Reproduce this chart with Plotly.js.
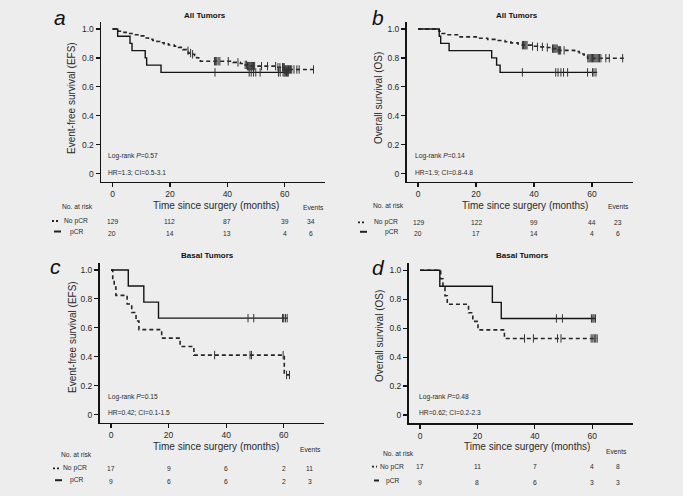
<!DOCTYPE html>
<html><head><meta charset="utf-8">
<script src="https://cdn.plot.ly/plotly-3.0.1.min.js"></script>
<style>html,body{margin:0;padding:0;background:#ededed}</style>
</head><body>
<div id="chart" style="width:683px;height:496px"></div>
<script>
// ---------------- DATA ----------------
const xTickVals = [0, 20, 40, 60];
const yTickVals = [0, 0.2, 0.4, 0.6, 0.8, 1.0];
const yTickText = ['0', '0.2', '0.4', '0.6', '0.8', '1.0'];
const riskTimes = [0, 20, 40, 60];

// Panel a: EFS, all tumors
const a_noPCR_t = [0, 1.2, 2.0, 4.0, 6.0, 8.0, 10.0, 11.3, 12.5, 14.0, 15.5, 16.5, 18.0, 19.5, 21.5, 23.0, 24.5, 25.8, 26.4, 27.5, 28.6, 29.3, 30.0, 30.6, 42.0, 44.5, 46.2, 47.0, 57.0, 60.0, 70.0];
const a_noPCR_s = [1.0, 0.992, 0.984, 0.976, 0.968, 0.96, 0.952, 0.937, 0.929, 0.921, 0.913, 0.905, 0.897, 0.889, 0.881, 0.873, 0.857, 0.849, 0.833, 0.825, 0.817, 0.801, 0.793, 0.777, 0.769, 0.761, 0.752, 0.743, 0.735, 0.72, 0.72];
const a_noPCR_cens = [26.3, 27.2, 27.9, 35.5, 35.9, 36.3, 36.8, 37.4, 40.3, 43.7, 46.2, 46.7, 47.0, 47.3, 47.6, 47.9, 48.2, 48.5, 48.8, 49.1, 49.5, 51.9, 54.0, 56.8, 57.6, 58.3, 59.2, 59.5, 59.8, 60.1, 60.4, 60.7, 61.0, 61.3, 61.6, 62.0, 62.4, 63.2, 64.2, 65.0, 70.0];
const a_pCR_t = [0, 1.8, 6.1, 6.8, 11.4, 11.9, 16.9, 61.2];
const a_pCR_s = [1.0, 0.95, 0.90, 0.85, 0.80, 0.75, 0.70, 0.70];
const a_pCR_cens = [35.7, 47.6, 48.3, 49.1, 49.9, 51.4, 57.8, 58.4, 59.4, 59.8, 60.2, 60.6, 61.0, 61.2];
const a_risk_noPCR = [129, 112, 87, 39];
const a_risk_pCR = [20, 14, 13, 4];
const a_events = [34, 6];

// Panel b: OS, all tumors
const b_noPCR_t = [0, 7.2, 8.2, 9.5, 14.5, 20.4, 24.0, 27.3, 30.0, 32.0, 34.5, 36.0, 39.0, 41.2, 44.0, 46.4, 48.1, 54.0, 55.6, 56.5, 57.3, 58.5, 71.0];
const b_noPCR_s = [1.0, 0.984, 0.968, 0.96, 0.945, 0.936, 0.928, 0.92, 0.912, 0.904, 0.896, 0.888, 0.88, 0.876, 0.872, 0.864, 0.852, 0.844, 0.836, 0.827, 0.818, 0.798, 0.798];
const b_noPCR_cens = [36.0, 36.4, 36.8, 37.2, 37.6, 39.5, 41.2, 42.9, 44.6, 46.4, 46.8, 47.2, 47.6, 48.0, 48.4, 48.8, 49.2, 50.4, 58.6, 59.0, 59.4, 59.8, 60.2, 60.6, 61.0, 61.4, 61.8, 62.2, 62.6, 63.1, 64.8, 66.0, 70.6];
const b_pCR_t = [0, 7.3, 7.8, 10.7, 25.4, 27.1, 28.3, 61.8];
const b_pCR_s = [1.0, 0.95, 0.90, 0.85, 0.80, 0.75, 0.70, 0.70];
const b_pCR_cens = [36.0, 47.5, 48.3, 49.3, 50.2, 51.6, 58.5, 60.2, 60.7, 61.4];
const b_risk_noPCR = [129, 122, 99, 44];
const b_risk_pCR = [20, 17, 14, 4];
const b_events = [23, 6];

// Panel c: EFS, basal tumors
const c_noPCR_t = [0, 0.6, 1.1, 1.7, 5.6, 7.2, 8.7, 9.7, 17.6, 24.0, 28.8, 60.2, 62.2];
const c_noPCR_s = [1.0, 0.941, 0.882, 0.824, 0.765, 0.706, 0.647, 0.588, 0.529, 0.471, 0.412, 0.275, 0.275];
const c_noPCR_cens = [36.0, 48.3, 48.8, 59.8, 61.0, 62.0];
const c_pCR_t = [0, 6.0, 11.4, 16.5, 61.4];
const c_pCR_s = [1.0, 0.889, 0.778, 0.667, 0.667];
const c_pCR_cens = [47.6, 49.6, 59.6, 60.0, 60.6, 61.2];
const c_risk_noPCR = [17, 9, 6, 2];
const c_risk_pCR = [9, 6, 6, 2];
const c_events = [11, 3];

// Panel d: OS, basal tumors
const d_noPCR_t = [0, 7.2, 8.0, 8.7, 9.5, 16.9, 18.4, 20.2, 29.4, 61.7];
const d_noPCR_s = [1.0, 0.941, 0.882, 0.824, 0.765, 0.706, 0.647, 0.588, 0.529, 0.529];
const d_noPCR_cens = [36.4, 39.5, 47.9, 49.1, 59.6, 60.2, 60.7, 61.2, 61.7];
const d_pCR_t = [0, 6.9, 25.2, 28.3, 61.2];
const d_pCR_s = [1.0, 0.889, 0.778, 0.667, 0.667];
const d_pCR_cens = [47.5, 49.6, 59.7, 60.2, 60.6, 61.1];
const d_risk_noPCR = [17, 11, 7, 4];
const d_risk_pCR = [9, 8, 6, 3];
const d_events = [8, 3];

const panelLetters = ['a', 'b', 'c', 'd'];
const panelTitles = ['All Tumors', 'All Tumors', 'Basal Tumors', 'Basal Tumors'];
const yTitles = ['Event-free survival (EFS)', 'Overall survival (OS)', 'Event-free survival (EFS)', 'Overall survival (OS)'];
const logrankP = ['0.57', '0.14', '0.15', '0.48'];
const hrText = ['HR=1.3; CI=0.5-3.1', 'HR=1.9; CI=0.8-4.8', 'HR=0.42; CI=0.1-1.5', 'HR=0.62; CI=0.2-2.3'];
const xTitle = 'Time since surgery (months)';
const groupNames = ['No pCR', 'pCR'];

// ---------------- LAYOUT HELPERS ----------------
const W = 683, H = 496;
const px = x => x / W;
const py = y => 1 - y / H;
const INK = '#141414';
const TXT = '#2a2a2a';
const MARK = '#333333';
const FONT = 'Arial, "Liberation Sans", sans-serif';

function stepAt(ts, ss, t) {
  let v = ss[0];
  for (let i = 0; i < ts.length; i++) { if (ts[i] <= t) v = ss[i]; }
  return v;
}

const panels = [
  {id: '', nt: a_noPCR_t, ns: a_noPCR_s, nc: a_noPCR_cens, pt: a_pCR_t, ps: a_pCR_s, pc: a_pCR_cens, rn: a_risk_noPCR, rp: a_risk_pCR, ev: a_events,
   xd: [101, 325], yd: [21.7, 181.7], letter: [60, 17], title: [205, 15], ytitle: [72, 98], stat: [106, 156, 172.3],
   tbl: {risk: [77.3, 206.7], xt: [216, 205], evt: [313.3, 207.3], r1: 221, r2: 233, lab1: 61.7, lab2: 68, leg: [52, 59]}},
  {id: '2', nt: b_noPCR_t, ns: b_noPCR_s, nc: b_noPCR_cens, pt: b_pCR_t, ps: b_pCR_s, pc: b_pCR_cens, rn: b_risk_noPCR, rp: b_risk_pCR, ev: b_events,
   xd: [406.5, 632.5], yd: [21.7, 181.7], letter: [378, 17], title: [517, 15], ytitle: [379, 98], stat: [412.7, 156, 172.5],
   tbl: {risk: [388.3, 205.7], xt: [525, 205], evt: [618.3, 206.7], r1: 222.3, r2: 233.3, lab1: 371.7, lab2: 382.7, leg: [358, 365]}},
  {id: '3', nt: c_noPCR_t, ns: c_noPCR_s, nc: c_noPCR_cens, pt: c_pCR_t, ps: c_pCR_s, pc: c_pCR_cens, rn: c_risk_noPCR, rp: c_risk_pCR, ev: c_events,
   xd: [99.5, 324], yd: [262.7, 422.7], letter: [55, 266], title: [207, 255], ytitle: [72, 337], stat: [106, 396.7, 412.7],
   tbl: {risk: [76.7, 454.3], xt: [216, 446.7], evt: [310.7, 449.3], r1: 468.3, r2: 481.7, lab1: 60.5, lab2: 68.3, leg: [53, 60]}},
  {id: '4', nt: d_noPCR_t, ns: d_noPCR_s, nc: d_noPCR_cens, pt: d_pCR_t, ps: d_pCR_s, pc: d_pCR_cens, rn: d_risk_noPCR, rp: d_risk_pCR, ev: d_events,
   xd: [408.5, 632.5], yd: [263, 423], letter: [378, 267], title: [522, 255], ytitle: [379, 336], stat: [416.7, 396.7, 412.7],
   tbl: {risk: [398.3, 453.3], xt: [527, 446], evt: [616.7, 451], r1: 466.7, r2: 482, lab1: 378, lab2: 384.3, leg: [372, 377]}}
];

const traces = [];
const annotations = [];
const shapes = [];
const layout = {
  width: W, height: H,
  margin: {l: 0, r: 0, t: 0, b: 0},
  paper_bgcolor: '#ededed', plot_bgcolor: '#ededed',
  showlegend: false,
  font: {family: FONT, color: TXT},
  annotations: annotations, shapes: shapes
};

const EVENT_X = 69;
const small = 6.7;

panels.forEach((p, i) => {
  const xa = 'x' + p.id, ya = 'y' + p.id;
  layout['xaxis' + p.id] = {
    domain: [px(p.xd[0]), px(p.xd[1])], range: [-4, 74], anchor: ya,
    showline: true, linecolor: INK, linewidth: 1.5, ticks: 'outside', ticklen: 4, tickwidth: 1.2, tickcolor: INK,
    tickvals: xTickVals, tickfont: {size: 8.5, color: TXT, family: FONT}, showgrid: false, zeroline: false, fixedrange: true
  };
  layout['yaxis' + p.id] = {
    domain: [py(p.yd[1]), py(p.yd[0])], range: [-0.055, 1.05], anchor: xa,
    showline: true, linecolor: INK, linewidth: 1.5, ticks: 'outside', ticklen: 4, tickwidth: 1.2, tickcolor: INK,
    tickvals: yTickVals, ticktext: yTickText, tickfont: {size: 8.5, color: TXT, family: FONT}, showgrid: false, zeroline: false, fixedrange: true
  };
  // curves
  traces.push({x: p.nt, y: p.ns, xaxis: xa, yaxis: ya, mode: 'lines', line: {shape: 'hv', color: '#262626', width: 1.6, dash: '4px,3px'}, hoverinfo: 'skip'});
  traces.push({x: p.pt, y: p.ps, xaxis: xa, yaxis: ya, mode: 'lines', line: {shape: 'hv', color: INK, width: 1.4}, hoverinfo: 'skip'});
  // censor marks
  traces.push({x: p.nc, y: p.nc.map(t => stepAt(p.nt, p.ns, t)), xaxis: xa, yaxis: ya, mode: 'markers',
    marker: {symbol: 'line-ns-open', size: 6, color: MARK, line: {width: 1, color: MARK}}, hoverinfo: 'skip'});
  traces.push({x: p.pc, y: p.pc.map(t => stepAt(p.pt, p.ps, t)), xaxis: xa, yaxis: ya, mode: 'markers',
    marker: {symbol: 'line-ns-open', size: 6, color: MARK, line: {width: 1, color: MARK}}, hoverinfo: 'skip'});

  // panel letter
  annotations.push({text: '<i>' + panelLetters[i] + '</i>', xref: 'paper', yref: 'paper', x: px(p.letter[0]), y: py(p.letter[1]),
    xanchor: 'center', yanchor: 'middle', showarrow: false, font: {size: 21, color: '#111', family: FONT}});
  // title
  annotations.push({text: '<b>' + panelTitles[i] + '</b>', xref: 'paper', yref: 'paper', x: px(p.title[0]), y: py(p.title[1]),
    xanchor: 'center', yanchor: 'middle', showarrow: false, font: {size: 8, color: '#111', family: FONT}});
  // y title
  annotations.push({text: yTitles[i], xref: 'paper', yref: 'paper', x: px(p.ytitle[0]), y: py(p.ytitle[1]), textangle: -90,
    xanchor: 'center', yanchor: 'middle', showarrow: false, font: {size: 10, color: TXT, family: FONT}});
  // stats
  annotations.push({text: 'Log-rank <i>P</i>=' + logrankP[i], xref: 'paper', yref: 'paper', x: px(p.stat[0]), y: py(p.stat[1]),
    xanchor: 'left', yanchor: 'middle', showarrow: false, font: {size: small, color: TXT, family: FONT}});
  annotations.push({text: hrText[i], xref: 'paper', yref: 'paper', x: px(p.stat[0]), y: py(p.stat[2]),
    xanchor: 'left', yanchor: 'middle', showarrow: false, font: {size: small, color: TXT, family: FONT}});
  // x title
  const t = p.tbl;
  annotations.push({text: xTitle, xref: 'paper', yref: 'paper', x: px(t.xt[0]), y: py(t.xt[1]),
    xanchor: 'center', yanchor: 'middle', showarrow: false, font: {size: 10, color: TXT, family: FONT}});
  annotations.push({text: 'No. at risk', xref: 'paper', yref: 'paper', x: px(t.risk[0]), y: py(t.risk[1]),
    xanchor: 'center', yanchor: 'middle', showarrow: false, font: {size: small, color: TXT, family: FONT}});
  annotations.push({text: 'Events', xref: 'paper', yref: 'paper', x: px(t.evt[0]), y: py(t.evt[1]),
    xanchor: 'center', yanchor: 'middle', showarrow: false, font: {size: small, color: TXT, family: FONT}});
  annotations.push({text: groupNames[0], xref: 'paper', yref: 'paper', x: px(t.lab1), y: py(t.r1),
    xanchor: 'left', yanchor: 'middle', showarrow: false, font: {size: small, color: TXT, family: FONT}});
  annotations.push({text: groupNames[1], xref: 'paper', yref: 'paper', x: px(t.lab2), y: py(t.r2 - 1.5),
    xanchor: 'left', yanchor: 'middle', showarrow: false, font: {size: small, color: TXT, family: FONT}});
  // legend marks
  shapes.push({type: 'line', xref: 'paper', yref: 'paper', x0: px(t.leg[0]), x1: px(t.leg[1]), y0: py(t.r1), y1: py(t.r1),
    line: {color: '#222', width: 1.8, dash: '2px,2px'}});
  shapes.push({type: 'line', xref: 'paper', yref: 'paper', x0: px(t.leg[0] + 2), x1: px(t.leg[1] + 2), y0: py(t.r2 - 1.5), y1: py(t.r2 - 1.5),
    line: {color: '#222', width: 2}});
  // at-risk numbers
  riskTimes.forEach((rt, k) => {
    annotations.push({text: String(p.rn[k]), xref: xa, yref: 'paper', x: rt, y: py(t.r1),
      xanchor: 'center', yanchor: 'middle', showarrow: false, font: {size: small, color: TXT, family: FONT}});
    annotations.push({text: String(p.rp[k]), xref: xa, yref: 'paper', x: rt, y: py(t.r2),
      xanchor: 'center', yanchor: 'middle', showarrow: false, font: {size: small, color: TXT, family: FONT}});
  });
  annotations.push({text: String(p.ev[0]), xref: xa, yref: 'paper', x: EVENT_X, y: py(t.r1),
    xanchor: 'center', yanchor: 'middle', showarrow: false, font: {size: small, color: TXT, family: FONT}});
  annotations.push({text: String(p.ev[1]), xref: xa, yref: 'paper', x: EVENT_X, y: py(t.r2),
    xanchor: 'center', yanchor: 'middle', showarrow: false, font: {size: small, color: TXT, family: FONT}});
});

Plotly.newPlot('chart', traces, layout, {staticPlot: true, displayModeBar: false});
</script>
</body></html>
